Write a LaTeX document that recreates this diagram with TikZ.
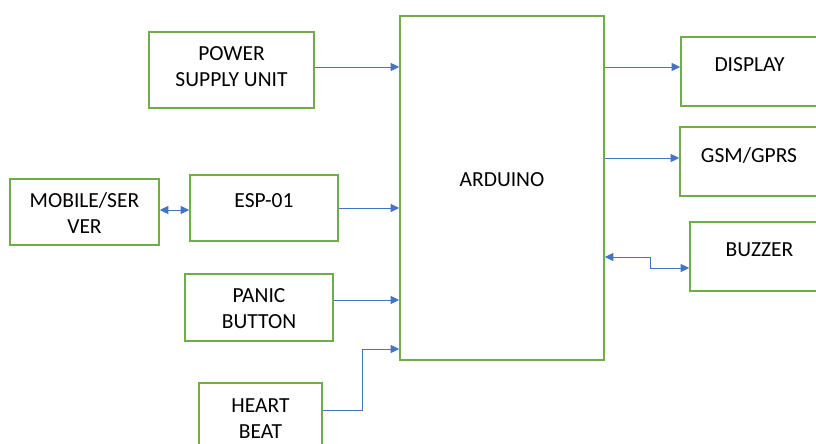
\documentclass[tikz,border=0pt]{standalone}
\usepackage{fontspec}
\setmainfont{Carlito}
\usetikzlibrary{arrows.meta, positioning}
\definecolor{boxgreen}{HTML}{70AD47}
\definecolor{linkblue}{HTML}{4472C4}
\tikzset{
  blk/.style={rectangle, draw=boxgreen, line width=1.6pt, fill=white, inner sep=0pt},
  txt/.style={anchor=base, align=center, inner sep=0pt,
              font=\fontsize{21.5}{26}\selectfont},
  arr/.style={-{Triangle[length=8.5pt,width=8pt]}, draw=linkblue, line width=0.9pt},
  biarr/.style={{Triangle[length=8.5pt,width=8pt]}-{Triangle[length=8.5pt,width=8pt]},
                draw=linkblue, line width=0.9pt},
}
\begin{document}
\begin{tikzpicture}[x=1pt, y=-1pt]
  \useasboundingbox (0,0) rectangle (816,444);
  \clip (0,0) rectangle (816,444);

  % blocks
  \node[blk, minimum width=204pt, minimum height=344pt] (ard) at (502,188) {};
  \node[txt] (ardtxt) at ([yshift=-171pt]ard.north) {ARDUINO};

  \node[blk, minimum width=165pt, minimum height=76pt] (psu) at (231.5,70) {};
  \node[txt] (psutxt) at ([yshift=-55.5pt]psu.north) {POWER\\SUPPLY UNIT};

  \node[blk, minimum width=149pt, minimum height=66pt] (mob) at (84.5,212) {};
  \node[txt] (mobtxt) at ([yshift=-55.5pt]mob.north) {MOBILE/SER\\VER};

  \node[blk, minimum width=148pt, minimum height=66pt] (esp) at (264,208) {};
  \node[txt] (esptxt) at ([yshift=-33.5pt]esp.north) {ESP-01};

  \node[blk, minimum width=148pt, minimum height=67pt] (pan) at (259,307.5) {};
  \node[txt] (pantxt) at ([yshift=-55.5pt]pan.north) {PANIC\\BUTTON};

  \node[blk, minimum width=123pt, minimum height=80pt] (hrt) at (260.5,423) {};
  \node[txt] (hrttxt) at ([yshift=-56.5pt]hrt.north) {HEART\\BEAT};

  \node[blk, minimum width=137pt, minimum height=69pt] (dsp) at (749.5,71.5) {};
  \node[txt] (dsptxt) at ([yshift=-35.5pt]dsp.north) {DISPLAY};

  \node[blk, minimum width=138pt, minimum height=69pt] (gsm) at (749,161.5) {};
  \node[txt] (gsmtxt) at ([yshift=-36.5pt]gsm.north) {GSM/GPRS};

  \node[blk, minimum width=139pt, minimum height=69pt] (buz) at (759.5,256.5) {};
  \node[txt] (buztxt) at ([yshift=-35.5pt]buz.north) {BUZZER};

  % links
  \draw[arr] (psu.east |- 0,67) -- (ard.west |- 0,67);
  \draw[biarr] (mob.east |- 0,210) -- (esp.west |- 0,210);
  \draw[arr] (esp.east |- 0,208) -- (ard.west |- 0,208);
  \draw[arr] (pan.east |- 0,300) -- (ard.west |- 0,300);
  \draw[arr] (hrt.east |- 0,410) -- ++(40,0) |- (ard.west |- 0,349);

  \draw[arr] (ard.east |- 0,67) -- (dsp.west |- 0,67);
  \draw[arr] (ard.east |- 0,158) -- (gsm.west |- 0,158);
  \draw[biarr] (ard.east |- 0,257) -- ++(46,0) |- (buz.west |- 0,268);

\end{tikzpicture}
\end{document}
